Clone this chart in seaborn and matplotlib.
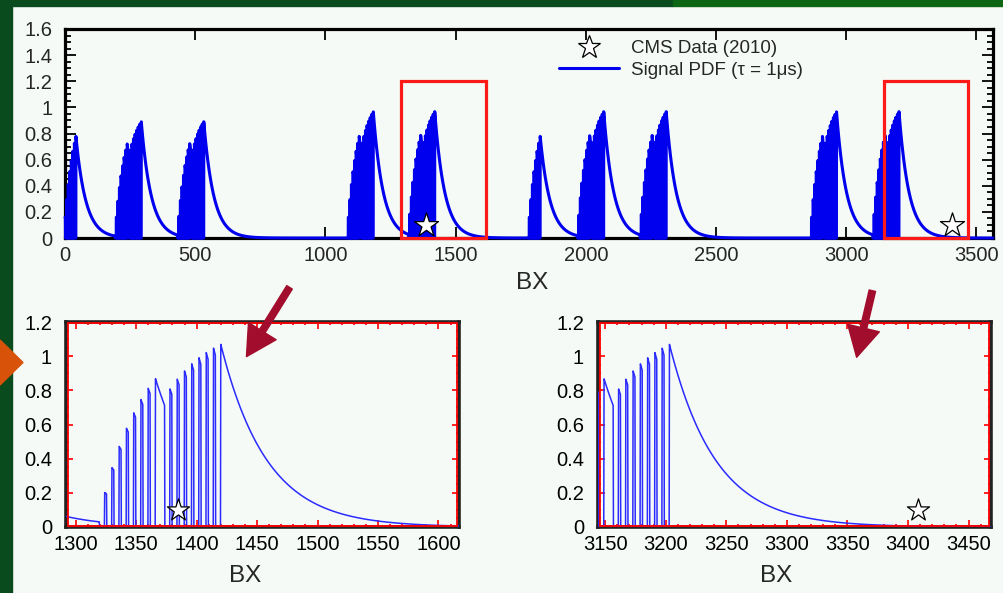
import numpy as np
import pandas as pd
import matplotlib
matplotlib.use("Agg")
import matplotlib.pyplot as plt
import seaborn as sns
from matplotlib.patches import Rectangle, Polygon, FancyArrowPatch
from matplotlib.lines import Line2D
from matplotlib.ticker import MultipleLocator, FuncFormatter

# ---------------- data ----------------
# LHC bunch trains (2010 filling): BX of the last crossing of each train
train_last_bx = [42, 293, 533, 1184, 1420, 1825, 2069, 2309, 2963, 3203]
train_n_groups = [1, 2, 2, 2, 2, 1, 2, 2, 2, 2]
train_strength = [1.0, 0.92, 0.92, 1.0, 1.0, 1.0, 1.0, 1.0, 1.0, 1.0]
bunches_per_group = 8
bunch_spacing_bx = 6
group_gap_bx = 12
tau_bx = 38            # decay constant (BX) read from the tails
bunch_amplitude = 0.175
live_window_bx = 1.75  # visible window after each crossing
top_norm = 0.905       # the overview panel is drawn at this normalisation
orbit_bx = 3564

cms_bx = [1385, 3408]
cms_val = [0.10, 0.10]

top_xticks = [0, 500, 1000, 1500, 2000, 2500, 3000, 3500]
top_yticks = [0, 0.2, 0.4, 0.6, 0.8, 1.0, 1.2, 1.4, 1.6]
zoom_yticks = [0, 0.2, 0.4, 0.6, 0.8, 1.0, 1.2]
zoom_windows = [(1292, 1617), (3144, 3468.5)]
zoom_xticks = [[1300, 1350, 1400, 1450, 1500, 1550, 1600],
               [3150, 3200, 3250, 3300, 3350, 3400, 3450]]

# ---------------- build the signal PDF ----------------
bunch_bx, bunch_w, train_span = [], [], []
for last, ng, s in zip(train_last_bx, train_n_groups, train_strength):
    span = (bunches_per_group - 1) * bunch_spacing_bx
    g2 = last - span
    firsts = [g2] if ng == 1 else [g2 - group_gap_bx - span, g2]
    train_span.append((firsts[0], last + live_window_bx))
    for f in firsts:
        for k in range(bunches_per_group):
            bunch_bx.append(f + k * bunch_spacing_bx)
            bunch_w.append(s)
bunch_bx = np.array(bunch_bx, float)
bunch_w = np.array(bunch_w, float)

t = np.arange(0, orbit_bx + 0.01, 0.25)
env = np.zeros_like(t)
dead = np.zeros_like(t, dtype=bool)
for b, w in zip(bunch_bx, bunch_w):
    m = t >= b
    env[m] += w * bunch_amplitude * np.exp(-(t[m] - b) / tau_bx)
    dead |= (t >= b - (bunch_spacing_bx - live_window_bx)) & (t < b)
sig = np.where(dead, 0.0, env)
in_train = np.zeros_like(t, dtype=bool)
for lo, hi in train_span:
    in_train |= (t >= lo) & (t <= hi)
df = pd.DataFrame({"BX": t, "pdf": sig, "top": sig * top_norm,
                   "top_env": env * top_norm})
stars = pd.DataFrame({"BX": cms_bx, "val": cms_val})

# ---------------- style ----------------
sns.set_style("ticks")
plt.rcParams["font.family"] = ["Liberation Sans", "DejaVu Sans"]
plt.rcParams["path.simplify"] = False
bg = "#f5faf6"
W, H = 1004, 593
fig = plt.figure(figsize=(W / 100, H / 100), dpi=100, facecolor=bg)

def fx(x):
    return x / W

def fy(y):
    return 1 - y / H

# decorations (slide background)
fig.add_artist(Rectangle((0, 0), fx(12), 1, transform=fig.transFigure,
                         color="#0a4b1e", zorder=0))
fig.add_artist(Rectangle((fx(12), fy(5.5)), fx(661), 5.5 / H, transform=fig.transFigure,
                         color="#0a4b1e", zorder=0))
fig.add_artist(Rectangle((fx(673), fy(5.5)), fx(331), 5.5 / H, transform=fig.transFigure,
                         color="#0c6614", zorder=0))
fig.add_artist(Polygon([(0, fy(340)), (fx(23), fy(362.5)), (0, fy(385))],
                       closed=True, transform=fig.transFigure, color="#d9520a", zorder=1))

fmt = FuncFormatter(lambda v, p: "%g" % v)

# ---------------- top overview ----------------
ax = fig.add_axes([fx(65), fy(238), fx(928), 209 / H], facecolor=bg)
sns.lineplot(data=df, x="BX", y="top", ax=ax, color="#0000ee", lw=2.2,
             estimator=None, sort=False, legend=False, zorder=3)
ax.lines[-1].set_clip_on(False)
# dense crossings render as a solid block at this scale
ax.fill_between(df["BX"], 0, df["top_env"], where=in_train, color="#0000ee",
                lw=0, zorder=3)
sns.scatterplot(data=stars, x="BX", y="val", ax=ax, marker="*", s=330,
                color="white", edgecolor="black", linewidth=0.9, zorder=5, legend=False)
for lo, hi in zoom_windows:
    ax.add_patch(Rectangle((lo, 0), hi - lo, 1.2, fill=False, edgecolor="#ff1a1a",
                           lw=2.3, zorder=6, clip_on=False))
ax.set_xlim(0, orbit_bx)
ax.set_ylim(0, 1.6)
ax.set_xticks(top_xticks)
ax.set_yticks(top_yticks)
ax.yaxis.set_minor_locator(MultipleLocator(0.05))
ax.yaxis.set_major_formatter(fmt)
ax.tick_params(which="both", direction="in", top=True, right=True, width=1.3,
               labelsize=14.5, color="black")
ax.tick_params(which="major", length=8)
ax.tick_params(which="minor", length=4)
ax.tick_params(axis="y", pad=9)
ax.tick_params(axis="x", pad=6)
for sp in ax.spines.values():
    sp.set_linewidth(2.3)
    sp.set_color("black")
ax.set_xlabel("")
ax.set_ylabel("")
handles = [Line2D([], [], ls="none", marker="*", markersize=17, markerfacecolor="white",
                  markeredgecolor="black", markeredgewidth=0.9),
           Line2D([], [], color="#0000ee", lw=2.2)]
ax.legend(handles, ["CMS Data (2010)", "Signal PDF (τ = 1μs)"], frameon=False,
          loc="upper left", bbox_to_anchor=(fx(559), fy(40)),
          bbox_transform=fig.transFigure, fontsize=13.5, handlelength=3.2,
          handletextpad=0.65, labelspacing=0.25, borderpad=0, borderaxespad=0)
fig.text(fx(532), fy(283), "BX", ha="center", va="center", fontsize=17.5)

# ---------------- zoom panels ----------------
for i, ((lo, hi), xt, left) in enumerate(zip(zoom_windows, zoom_xticks, [66, 598])):
    a = fig.add_axes([fx(left), fy(527), fx(393), 205 / H], facecolor=bg)
    sns.lineplot(data=df, x="BX", y="pdf", ax=a, color="#2b2bff", lw=1.1,
                 estimator=None, sort=False, legend=False, zorder=3)
    sns.scatterplot(data=stars, x="BX", y="val", ax=a, marker="*", s=280,
                    color="white", edgecolor="black", linewidth=0.9, zorder=5, legend=False)
    a.set_xlim(lo, hi)
    a.set_ylim(0, 1.2)
    a.set_xticks(xt)
    a.set_yticks(zoom_yticks)
    a.xaxis.set_minor_locator(MultipleLocator(10))
    a.yaxis.set_minor_locator(MultipleLocator(0.05))
    a.yaxis.set_major_formatter(fmt)
    a.tick_params(which="both", direction="in", top=True, right=True, width=1.2,
                  labelsize=14.5, color="#ff0000", labelcolor="black")
    a.tick_params(which="major", length=5)
    a.tick_params(which="minor", length=2.5)
    a.tick_params(axis="y", pad=10)
    a.tick_params(axis="x", pad=6)
    for sp in a.spines.values():
        sp.set_linewidth(2.6)
        sp.set_color("#222222")
    a.add_patch(Rectangle((0.004, 0.007), 0.992, 0.986, transform=a.transAxes,
                          fill=False, edgecolor="#ff0000", lw=1.3, zorder=4, clip_on=False))
    a.set_xlabel("")
    a.set_ylabel("")
    fig.text(fx(245 if i == 0 else 776), fy(576), "BX", ha="center", va="center",
             fontsize=17.5)

# arrows
for (x0, y0), (x1, y1) in [((291, 285), (245, 359)), ((873, 288), (856, 360))]:
    fig.add_artist(FancyArrowPatch((fx(x0), fy(y0)), (fx(x1), fy(y1)),
                                   transform=fig.transFigure,
                                   arrowstyle="simple,head_length=1.2,head_width=1.3,tail_width=0.26",
                                   mutation_scale=18, color="#a30d2d", zorder=20))

fig.savefig("out.png", dpi=100, facecolor=bg)
